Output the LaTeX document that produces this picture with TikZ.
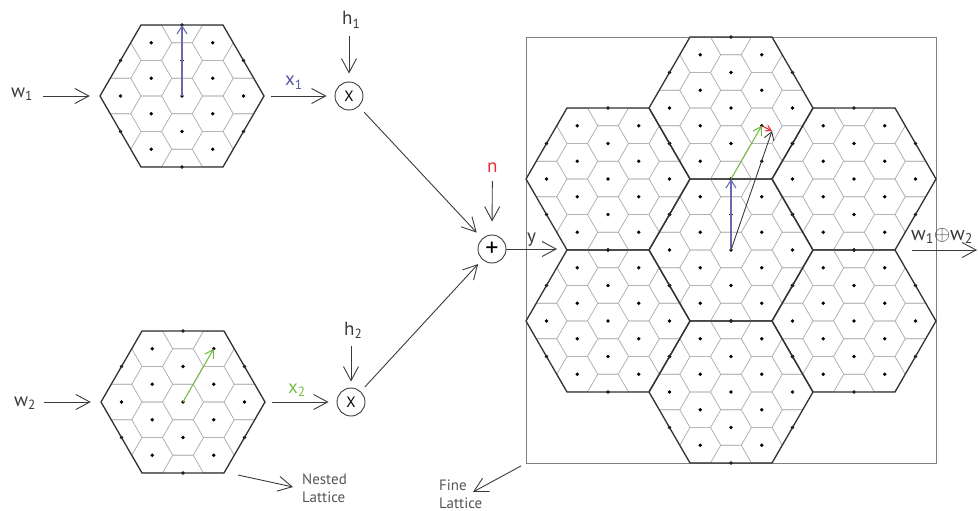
\documentclass[tikz,border=0pt]{standalone}
\usepackage{fontspec}
\setmainfont{PT Sans}
\usetikzlibrary{arrows.meta,calc}

\definecolor{ink}{HTML}{3A3A3A}
\definecolor{hexcol}{HTML}{333333}
\definecolor{cellcol}{HTML}{B4B4B4}
\definecolor{boxcol}{HTML}{808080}
\definecolor{bluevec}{HTML}{6A6AAE}
\definecolor{bluelab}{HTML}{55559C}
\definecolor{greenvec}{HTML}{74BE46}
\definecolor{redvec}{HTML}{E3343A}
\definecolor{notecol}{HTML}{555555}

\tikzset{
  hexedge/.style={draw=hexcol, line width=1.3pt, line join=miter},
  cellline/.style={draw=cellcol, line width=0.55pt},
  latdot/.style={fill=black},
  flow/.style={draw=ink, line width=0.9pt, -{Straight Barb[length=14pt,width=15pt]}},
  vec/.style={line width=1.1pt, -{Straight Barb[length=8pt,width=10pt]}},
  lab/.style={font=\fontsize{19}{22}\selectfont, text=ink, inner sep=0pt, anchor=base west},
  note/.style={font=\fontsize{15}{18}\selectfont, text=notecol, inner sep=0pt, align=left},
  op/.style={circle, draw=ink, line width=0.9pt, minimum size=28pt, inner sep=0pt},
  region/.style={circle, minimum size=164pt, inner sep=0pt},
}

% one coarse Voronoi cell with the fine lattice and its cells inside
\newcommand\coarsecell[2]{%
  \begin{scope}
    \clip (#1+82,#2)--(#1+41,#2+71)--(#1-41,#2+71)--(#1-82,#2)--(#1-41,#2-71)--(#1+41,#2-71)--cycle;
    \foreach \j in {-3,...,3}{\foreach \i in {-4,...,4}{
      \draw[cellline] (#1+\j*30.744,#2+\i*35.5+\j*17.75)
        ++(20.5,0) -- ++(-10.25,17.75) -- ++(-20.5,0) -- ++(-10.25,-17.75)
        -- ++(10.25,-17.75) -- ++(20.5,0) -- cycle;
    }}
  \end{scope}
  \foreach \j in {-2,...,2}{\foreach \i in {-3,...,3}{
    \pgfmathtruncatemacro\ta{abs(3*\j)+abs(2*\i+\j)}
    \pgfmathtruncatemacro\tb{abs(2*\i+\j)}
    \ifnum\ta<9 \ifnum\tb<5 \fill[latdot] (#1+\j*30.744,#2+\i*35.5+\j*17.75) circle[radius=1.9]; \fi\fi
  }}
  \draw[hexedge] (#1+82,#2)--(#1+41,#2+71)--(#1-41,#2+71)--(#1-82,#2)--(#1-41,#2-71)--(#1+41,#2-71)--cycle;
}

\begin{document}
\begin{tikzpicture}[x=1pt,y=-1pt]
  \useasboundingbox (0,0) rectangle (978,511);

  % nested lattices of the two users
  \coarsecell{182}{96}
  \coarsecell{183}{402}
  \node[region] (hexA) at (182,96) {};
  \node[region] (hexB) at (183,402) {};

  % fine lattice made of seven coarse cells
  \node[draw=boxcol, line width=0.9pt, minimum width=410pt, minimum height=426pt, inner sep=0pt] (fineBox) at (731,250) {};
  \coarsecell{731}{250}
  \coarsecell{731}{108}
  \coarsecell{731}{392}
  \coarsecell{608}{179}
  \coarsecell{608}{321}
  \coarsecell{854}{179}
  \coarsecell{854}{321}

  % lattice points used by the vectors
  \coordinate (A0) at (182,96);
  \coordinate (A1) at (182,25);
  \coordinate (B0) at (183,402);
  \coordinate (B1) at (213.7,348.75);
  \coordinate (C0) at (731,250);
  \coordinate (C1) at (731,179);
  \coordinate (C2) at (761.7,125.75);
  \coordinate (C3) at (772,131);

  \draw[vec, bluevec] (A0) -- (A1);
  \draw[vec, greenvec] (B0) -- (B1);
  \draw[vec, bluevec] (C0) -- (C1);
  \draw[vec, greenvec] (C1) -- (C2);
  \draw[vec, ink, line width=0.9pt] (C0) -- (C3);
  \draw[redvec, line width=1.1pt, -{Straight Barb[length=5pt,width=6pt]}] (C2) -- (C3);

  % inputs
  \node[lab] (w1) at (11,97) {w\textsubscript{1}};
  \node[lab] (w2) at (14,406) {w\textsubscript{2}};
  \draw[flow, shorten <=10pt, shorten >=10pt] (w1.east |- hexA.west) -- (hexA.west);
  \draw[flow, shorten <=8pt, shorten >=10pt] (w2.east |- hexB.west) -- (hexB.west);

  % channel gains
  \node[op] (mulA) at (349,96) {\fontsize{15}{15}\selectfont X};
  \node[op] (mulB) at (351,402) {\fontsize{15}{15}\selectfont X};
  \node[lab, text=bluelab] (x1) at (285,86) {x\textsubscript{1}};
  \node[lab, text=greenvec] (x2) at (288,393) {x\textsubscript{2}};
  \draw[flow, shorten <=7pt, shorten >=8pt] (hexA.east) -- (mulA.west);
  \draw[flow, shorten <=7pt, shorten >=8pt] (hexB.east) -- (mulB.west);

  \node[lab] (h1) at (342,25) {h\textsubscript{1}};
  \node[lab] (h2) at (344,335) {h\textsubscript{2}};
  \draw[flow, shorten <=7pt, shorten >=8pt] (h1.south -| mulA.north) -- (mulA.north);
  \draw[flow, shorten <=7pt, shorten >=6pt] (h2.south -| mulB.north) -- (mulB.north);

  % superposition with noise
  \node[op] (sum) at (492,249) {\fontsize{26}{26}\selectfont +};
  \draw[flow, shorten <=8pt, shorten >=8pt] (mulA) -- (sum);
  \draw[flow, shorten <=6pt, shorten >=6pt] (mulB) -- (sum);
  \node[lab, text=redvec] (n) at (487,172) {n};
  \draw[flow, shorten <=9pt, shorten >=13pt] (n.south) -- (sum.north);

  \node[lab] (y) at (527,242) {y};
  \coordinate (yEnd) at (557,249);
  \draw[flow] (sum.east) -- (yEnd);

  % decoded sum
  \node[lab, font=\fontsize{20}{22}\selectfont] (wsum) at (911,240) {w\textsubscript{1}$\oplus$w\textsubscript{2}};
  \coordinate (oStart) at (912,250);
  \coordinate (oEnd) at (977,250);
  \draw[flow] (oStart) -- (oEnd);

  % annotations
  \node[note, anchor=base west] (nested) at (302,502) {Nested\\Lattice};
  \coordinate (nStart) at (238,475);
  \coordinate (nTip) at (293,487);
  \draw[flow] (nStart) -- (nTip);

  \node[note, anchor=base west] (fine) at (439,508) {Fine\\Lattice};
  \coordinate (fTip) at (473,492);
  \draw[flow, shorten <=5pt] (fineBox.south west) -- (fTip);
\end{tikzpicture}
\end{document}
